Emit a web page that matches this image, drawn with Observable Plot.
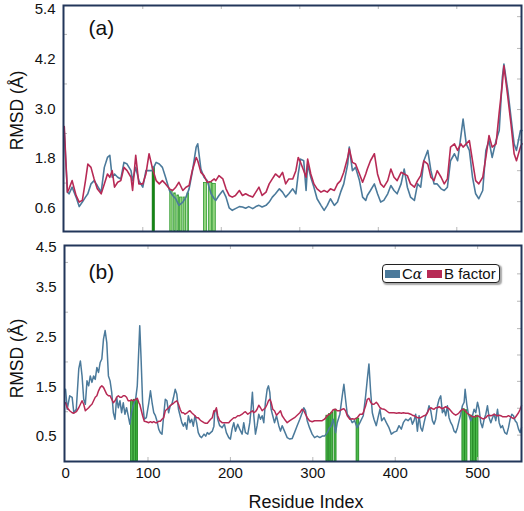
<!DOCTYPE html>
<html><head><meta charset="utf-8">
<script src="https://cdn.jsdelivr.net/npm/d3@7"></script>
<script src="https://cdn.jsdelivr.net/npm/@observablehq/plot@0.6"></script>
<style>
body{margin:0;background:#fff;}
#wrap{position:relative;width:524px;height:511px;font-family:"Liberation Sans",Arial,sans-serif;overflow:hidden;}
#wrap svg{position:absolute;left:0;}
#legend{position:absolute;left:382px;top:264px;width:116px;height:17px;border:1.3px solid #222;border-radius:4px;background:#fff;box-shadow:1.5px 1.5px 1.5px rgba(0,0,0,0.35);font-size:15px;color:#111;}
#legend .sw{position:absolute;top:4.5px;width:15px;height:8px;}
#legend .lb{position:absolute;top:-1px;line-height:19px;white-space:nowrap;}
</style></head><body>
<div id="wrap"></div>
<script>
// ---------- Panel (a) data ----------
const resA = [0,2,4,6,10,15,19,23,27,30,34,38,42,47,51,55,58,61,64,68,72,76,80,85,87,91,95,100,104,108,112,117,121,125,129,134,138,142,146,151,155,159,163,168,170,174,178,182,187,191,193,197,202,206,210,214,218,223,227,231,235,240,244,248,252,257,261,265,269,274,278,282,286,291,295,298,301,305,308,310,314,318,322,327,331,335,339,344,348,352,356,361,363,367,371,376,380,384,386,390,395,399,403,407,412,416,420,424,429,433,437,441,446,450,454,458,463,467,471,475,480,484,488,492,497,501,505,508,512,516,520,524,528,533,537,541,545,550,554,558,560,565,569,573,576,581,583];
const caA = [2.45,1.70,0.98,0.94,1.10,0.86,0.63,0.74,0.86,0.94,1.18,1.26,1.14,0.98,1.58,1.82,1.87,1.34,1.42,1.34,1.30,1.70,1.66,1.50,1.26,1.58,1.26,1.10,1.50,1.50,1.50,1.70,1.66,1.58,1.34,1.02,0.90,0.82,0.66,0.74,0.86,1.06,1.46,2.07,2.15,1.54,1.34,1.26,0.94,0.82,0.78,0.90,1.02,0.86,0.60,0.54,0.58,0.63,0.62,0.59,0.63,0.58,0.63,0.66,0.62,0.66,0.74,0.86,0.94,1.06,0.98,0.86,0.94,1.06,0.94,1.42,1.78,1.74,1.02,1.66,1.34,1.10,0.82,0.66,0.54,0.66,0.82,0.66,0.74,0.98,1.18,1.66,2.07,1.50,1.58,1.26,0.86,0.78,0.90,1.02,1.18,0.94,0.74,0.78,0.94,1.14,1.02,0.94,1.18,1.54,1.10,0.86,0.78,1.18,1.10,1.74,1.99,1.50,1.18,1.18,1.06,1.02,1.10,1.74,1.91,1.74,2.31,2.75,2.15,1.99,1.34,0.94,0.82,1.02,1.99,2.23,1.82,2.23,2.47,3.76,4.08,3.44,2.79,2.15,1.99,2.47,2.47];
const bfA = [2.57,1.74,0.98,1.06,1.26,0.90,0.74,0.78,1.26,1.66,1.58,1.30,1.06,0.94,1.18,1.42,1.34,1.50,1.10,1.22,1.26,1.58,1.50,1.34,1.02,1.87,1.18,1.18,1.42,1.91,1.58,1.26,1.18,1.26,1.18,1.06,1.02,1.10,1.22,1.02,1.10,1.14,1.50,1.82,1.74,1.46,1.38,1.22,1.24,1.30,1.26,1.38,1.30,1.06,0.90,0.86,0.90,1.02,0.90,0.94,0.90,0.86,0.98,1.10,0.90,0.98,1.18,1.30,1.42,1.34,1.46,1.18,1.30,1.30,1.50,1.82,1.70,1.50,1.34,1.78,1.42,1.18,1.06,0.98,1.02,0.98,1.06,1.02,1.18,1.26,1.46,1.82,2.03,1.70,1.66,1.42,1.22,1.42,1.54,1.74,1.91,1.42,1.18,1.10,1.26,1.54,1.34,1.26,1.46,1.42,1.38,1.18,1.10,1.26,1.38,1.74,1.66,1.34,1.26,1.50,1.34,1.18,1.30,2.07,2.15,1.99,2.15,2.07,2.15,2.23,1.74,1.26,1.18,1.34,1.82,2.35,2.07,2.15,2.91,3.60,4.04,3.28,2.63,1.91,1.74,2.07,2.15];
const barStartA = [135,140,144,147.5,152,157,178,184.5,189];
const barEndA   = [138,142,146,150.5,155,159,182,188.5,193];
const barTopA   = [1.00,0.95,0.90,0.85,0.85,0.95,1.20,1.20,1.18];
const darkStartA = [112.5];
const darkEndA = [115.5];
const darkTopA = [1.58];
const yTicksA = [0.6,1.8,3.0,4.2,5.4];
const minorYA = [1.2,2.4,3.6,4.8];
const rightTicksA = [0.75,1.50,2.245,2.98,3.72,4.46,5.23];
const xTicksA = [100,200,300,400,500];
const labelA = "(a)";

// ---------- Panel (b) data ----------
const resB = [0,2,5,8,10,13,16,18,20,22,24,26,28,30,32,34,36,38,40,42,44,46,48,50,52,54,56,58,60,62,64,66,68,70,72,74,76,78,80,82,85,87,89,90,91.5,93.5,95.5,98,101,103,105,107,109,111,113,115,117,119,121,123,125,127,129,131,133,135,137,139,141,143,145,147,149,151,153,155,157,159,161,163,165,168,170,172,174,176,178,180,181,183,184.6,187,189.9,192.7,195.1,198,200,202,204.1,206.1,208.9,211.3,214.2,216.2,218.2,221.1,223.5,225.1,226.7,228.4,230.4,232.4,234.4,236.5,238.5,240.5,242.5,244.6,246.2,247.8,249.4,251.4,253.5,255.9,258.7,260.8,262.8,265.6,268.9,272.1,274.9,277.8,281,284.2,287.1,289.1,291.1,293.2,296,299.2,302.1,305.3,308.5,311.4,314.2,317.5,320.3,322.3,324.7,327.6,329.6,332.8,335.7,337.7,339.7,341.8,345,347.8,350.7,353.9,357.1,360,361.2,364.1,366.1,368.1,370.2,372.2,374.2,377,379.1,381.5,383.5,386.4,389.2,392.4,395.3,398.5,401.7,404.6,407.4,409.8,412.7,415.5,418.8,420.8,422.8,424.8,426.9,428.9,430.9,432.9,435,437,439,441,443.1,445.1,447.1,449.1,451.2,453.2,455.2,457.2,459.3,461.3,463.3,465.3,467.4,469.4,471.4,473.4,475.5,477.5,479.5,481.5,483.6,484.8,486.8,488.8,491.7,493.7,495.7,497.7,499.8,501.8,503.8,505.8,507.9,509.9,511.9,513.9,516,518,520,522,524.1,526.1,528.1,530.1,533,535.4,537.4,539.4,541.5,543.5,545.5,547.5,549.6,551.6,553.2];
const caB = [1.45,1.05,1.32,1.29,0.98,1.05,1.86,2.02,1.72,1.25,1.15,1.62,1.52,1.72,1.59,1.72,1.65,1.89,1.79,1.99,2.06,2.46,2.63,2.39,1.72,1.62,1.39,0.98,0.85,1.29,1.08,1.22,0.98,1.18,0.95,1.08,0.92,0.75,0.98,1.12,1.25,1.52,2.32,2.73,2.12,1.18,0.85,0.88,1.18,1.42,1.18,0.98,0.92,0.81,0.65,0.58,0.55,0.92,1.25,1.22,0.98,1.12,1.15,1.29,1.45,1.35,1.05,0.92,0.78,0.71,0.78,0.65,0.92,0.78,0.85,0.71,0.92,0.78,0.58,0.51,0.48,0.55,0.51,0.58,0.55,0.58,0.61,0.71,1.02,1.05,0.85,0.72,0.68,0.75,0.58,0.48,0.45,0.65,0.78,0.61,0.75,0.65,0.55,0.78,0.58,0.55,0.78,1.05,1.39,0.92,0.55,0.72,0.95,0.85,0.92,0.78,1.19,1.45,1.52,1.39,1.05,0.92,0.78,0.92,0.72,0.61,0.72,0.61,0.48,0.45,0.46,0.58,0.72,0.85,0.98,1.08,1.02,0.82,0.68,0.55,0.48,0.51,0.48,0.51,0.51,0.58,0.68,0.72,0.85,0.58,0.78,0.95,1.32,1.55,1.25,0.95,0.88,0.78,0.82,0.68,0.78,0.88,0.92,1.32,1.65,1.96,1.39,0.98,0.85,0.72,0.88,1.05,0.82,0.88,0.78,0.68,0.55,0.59,0.61,0.72,0.65,0.78,0.85,0.82,0.88,0.75,0.82,0.95,0.61,0.92,0.68,0.61,0.78,0.92,0.98,1.12,1.02,0.82,0.75,0.85,1.12,1.25,1.32,0.98,1.05,0.92,1.12,0.88,0.78,0.72,0.61,0.58,0.68,0.82,0.95,1.12,1.19,1.45,1.15,0.95,0.82,0.92,1.05,0.98,1.19,1.05,0.78,0.68,0.85,0.95,1.12,0.88,0.78,0.88,0.95,0.82,1.05,0.78,0.68,0.72,0.58,0.55,0.68,0.85,0.95,0.92,0.82,0.78,0.65,0.58,0.68];
const bfB = [1.18,1.08,1.02,0.98,0.97,1.00,1.08,1.15,1.22,1.15,1.02,1.05,1.08,1.12,1.15,1.22,1.29,1.32,1.42,1.49,1.52,1.49,1.42,1.35,1.32,1.32,1.25,1.18,1.22,1.29,1.32,1.29,1.29,1.32,1.32,1.29,1.22,1.22,1.24,1.22,1.25,1.27,1.18,1.15,1.05,0.92,0.81,0.80,0.78,0.80,0.78,0.80,0.78,0.78,0.81,0.81,0.85,0.88,1.02,1.05,1.08,1.12,1.15,1.17,1.20,1.22,1.15,1.05,0.98,0.98,0.95,0.97,1.00,1.02,0.98,0.95,0.92,0.88,0.88,0.84,0.81,0.78,0.77,0.77,0.81,0.85,0.88,1.02,1.00,1.08,0.92,0.82,0.78,0.78,0.78,0.78,0.82,0.85,0.88,0.88,0.92,0.92,0.95,0.98,1.00,0.95,0.98,1.00,1.02,0.98,1.00,1.05,1.13,1.08,1.02,1.05,1.08,1.15,1.22,1.25,1.19,1.05,1.02,0.93,0.98,1.02,0.92,0.85,0.78,0.82,0.85,0.88,0.93,0.98,1.05,1.02,0.95,0.88,0.82,0.80,0.82,0.82,0.82,0.82,0.85,0.92,0.95,0.98,1.04,1.05,1.02,1.02,1.05,1.06,1.02,0.92,0.85,0.86,0.85,0.88,0.95,0.95,0.98,1.12,1.25,1.27,1.19,1.15,1.15,1.19,1.15,1.08,1.06,1.05,1.02,0.98,0.98,0.98,0.97,0.98,0.97,0.98,0.97,0.97,0.95,0.93,0.92,0.90,0.88,0.88,0.88,0.90,0.92,0.93,0.98,1.05,1.08,1.06,1.05,1.08,1.08,1.10,1.08,1.06,1.08,1.10,1.08,1.06,1.02,0.98,0.95,0.93,0.95,0.98,1.02,1.05,1.04,1.02,0.98,0.95,0.92,0.90,0.90,0.90,0.92,0.90,0.88,0.86,0.86,0.88,0.92,0.93,0.92,0.93,0.95,0.93,0.92,0.93,0.92,0.90,0.90,0.90,0.92,0.90,0.88,0.86,0.88,0.93,0.98,1.05,1.12];
const barStartB = [79.5,83,86,316.5,319.5,322.3,326.4,353.1,481.5,484.8,491.7,494.9,498.1];
const barEndB   = [82,85.5,88,318.3,321.5,324.7,328.8,356.3,484.4,487.6,494.5,497.7,501];
const barTopB   = [1.22,1.24,1.26,0.92,0.95,0.98,1.04,0.86,1.05,1.03,0.92,0.90,0.92];
const yTicksB = [0.5,1.5,2.5,3.5];
const yTopLabelB = "4.5";
const minorYB = [1.0,2.0,3.0,4.0];
const rightTicksB = [0.53,1.07,1.61,2.14,2.67,3.22,3.77];
const xTicksB = [0,100,200,300,400,500];
const labelB = "(b)";
const seriesNames = ["C\u03b1", "B factor"];
const xTitle = "Residue Index";
const yTitle = "RMSD (\u00c5)";

// ---------- styles ----------
const FONT = '"Liberation Sans", Arial, sans-serif';
const CA = "#4b7a9b", BF = "#b72a55", FRAME = "#22365a", TICK = "#b8b8b8";

const rowsA = resA.map((r,i)=>({r, ca:caA[i], bf:bfA[i]}));
const rowsB = resB.map((r,i)=>({r, ca:caB[i], bf:bfB[i]}));
const barsA = barStartA.map((s,i)=>({s, e:barEndA[i], t:barTopA[i]}));
const darkA = darkStartA.map((s,i)=>({s, e:darkEndA[i], t:darkTopA[i]}));
const barsB = barStartB.map((s,i)=>({s, e:barEndB[i], t:barTopB[i]}));

const wrap = document.getElementById("wrap");

// Panel (a)
const yDomA = [0.027, 5.5];
const pA = Plot.plot({
  width: 524, height: 235,
  marginTop: 5, marginBottom: 4, marginLeft: 63, marginRight: 3,
  x: {domain: [-1, 582.4], axis: null},
  y: {domain: yDomA, axis: null},
  style: {fontFamily: FONT, fontSize: "15px", color: "#111", background: "transparent", overflow: "visible"},
  marks: [
    Plot.rect(barsA, {x1: "s", x2: "e", y1: yDomA[0], y2: "t", fill: "#92d57e", stroke: "#2f9a2f", strokeWidth: 0.8}),
    Plot.rect(darkA, {x1: "s", x2: "e", y1: yDomA[0], y2: "t", fill: "#128612", stroke: "#0d6e0d", strokeWidth: 0.6}),
    Plot.tickX(xTicksA, {x: d=>d, stroke: TICK, insetBottom: 222}),
    Plot.tickX(xTicksA, {x: d=>d, stroke: TICK, insetTop: 222}),
    Plot.tickY(minorYA, {y: d=>d, stroke: TICK, insetRight: 454}),
    Plot.tickY(rightTicksA, {y: d=>d, stroke: TICK, insetLeft: 454}),
    Plot.line(rowsA, {x: "r", y: "ca", stroke: CA, strokeWidth: 1.6}),
    Plot.line(rowsA, {x: "r", y: "bf", stroke: BF, strokeWidth: 1.6}),
    Plot.axisY(yTicksA, {anchor: "left", tickSize: 0, tickPadding: 8, tickFormat: d=>d.toFixed(1), fontSize: 15}),
    Plot.text([yTitle], {frameAnchor: "left", dx: -46, dy: -8, rotate: -90, textAnchor: "middle", lineAnchor: "middle", fontSize: 17.5}),
    Plot.text([labelA], {frameAnchor: "top-left", dx: 25, dy: 22.5, textAnchor: "start", lineAnchor: "middle", fontSize: 21}),
    Plot.frame({stroke: FRAME, strokeWidth: 2})
  ]
});
pA.style.top = "0px";
wrap.appendChild(pA);

// Panel (b)
const yDomB = [0, 4.34];
const pB = Plot.plot({
  width: 524, height: 276,
  marginTop: 10, marginBottom: 50, marginLeft: 64, marginRight: 3,
  x: {domain: [-1.3, 553.2], axis: null},
  y: {domain: yDomB, axis: null},
  style: {fontFamily: FONT, fontSize: "15px", color: "#111", background: "transparent", overflow: "visible"},
  marks: [
    Plot.rect(barsB, {x1: "s", x2: "e", y1: yDomB[0], y2: "t", fill: "#4cb84c", stroke: "#1b861b", strokeWidth: 0.8}),
    Plot.tickX(xTicksB.slice(1), {x: d=>d, stroke: TICK, insetBottom: 212}),
    Plot.tickX(xTicksB.slice(1), {x: d=>d, stroke: TICK, insetTop: 212}),
    Plot.tickY(minorYB, {y: d=>d, stroke: TICK, insetRight: 453}),
    Plot.tickY(rightTicksB, {y: d=>d, stroke: TICK, insetLeft: 453}),
    Plot.line(rowsB, {x: "r", y: "ca", stroke: CA, strokeWidth: 1.5}),
    Plot.line(rowsB, {x: "r", y: "bf", stroke: BF, strokeWidth: 1.5}),
    Plot.axisY(yTicksB, {anchor: "left", tickSize: 0, tickPadding: 8, tickFormat: d=>d.toFixed(1), fontSize: 15}),
    Plot.text([yTopLabelB], {frameAnchor: "top-left", dx: -8, dy: 1.5, textAnchor: "end", lineAnchor: "middle", fontSize: 15}),
    Plot.axisX(xTicksB, {anchor: "bottom", tickSize: 0, tickPadding: 6, tickFormat: d=>String(d), fontSize: 15}),
    Plot.text([xTitle], {frameAnchor: "bottom", dx: 13, dy: 40.5, lineAnchor: "middle", fontSize: 18}),
    Plot.text([yTitle], {frameAnchor: "left", dx: -47, dy: 5, rotate: -90, textAnchor: "middle", lineAnchor: "middle", fontSize: 17.5}),
    Plot.text([labelB], {frameAnchor: "top-left", dx: 24, dy: 27, textAnchor: "start", lineAnchor: "middle", fontSize: 21}),
    Plot.frame({stroke: FRAME, strokeWidth: 2})
  ]
});
pB.style.top = "235px";
wrap.appendChild(pB);

// Legend (HTML overlay inside panel b)
const lg = document.createElement("div");
lg.id = "legend";
lg.innerHTML =
  `<div class="sw" style="left:2px;background:${CA}"></div>` +
  `<div class="lb" style="left:19px">C<span style="font-family:'DejaVu Serif',serif;font-style:italic;font-size:14px">${seriesNames[0].slice(1)}</span></div>` +
  `<div class="sw" style="left:44px;background:${BF}"></div>` +
  `<div class="lb" style="left:61px">${seriesNames[1]}</div>`;
wrap.appendChild(lg);
</script>
</body></html>
